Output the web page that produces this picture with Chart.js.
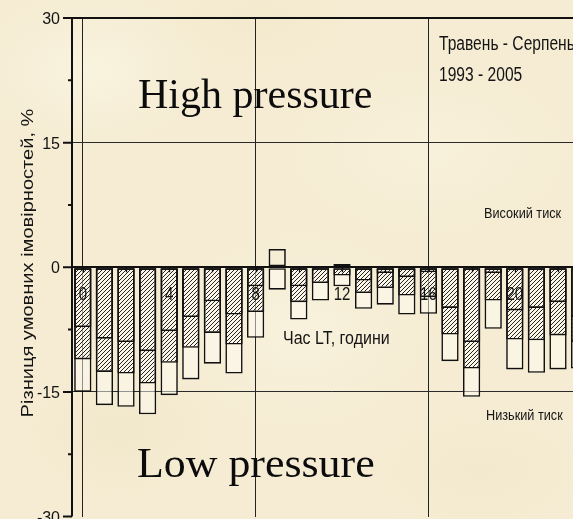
<!DOCTYPE html>
<html lang="uk">
<head>
<meta charset="utf-8">
<title>Різниця умовних імовірностей, %</title>
<script src="https://cdn.jsdelivr.net/npm/chart.js@4.4.1/dist/chart.umd.min.js"></script>
<style>
  html, body { margin: 0; padding: 0; overflow: hidden; }
  body {
    width: 573px; height: 519px;
    background-color: #f5ecd3;
    background-image:
      radial-gradient(ellipse 160px 110px at 90px 70px, rgba(252,247,230,0.6), rgba(252,247,230,0) 70%),
      radial-gradient(ellipse 200px 120px at 430px 150px, rgba(251,245,225,0.55), rgba(251,245,225,0) 70%),
      radial-gradient(ellipse 180px 140px at 300px 330px, rgba(251,246,228,0.55), rgba(251,246,228,0) 70%),
      radial-gradient(ellipse 150px 100px at 120px 430px, rgba(238,227,194,0.45), rgba(238,227,194,0) 70%),
      radial-gradient(ellipse 170px 90px at 480px 470px, rgba(240,229,198,0.4), rgba(240,229,198,0) 70%),
      radial-gradient(ellipse 140px 80px at 260px 20px, rgba(240,229,196,0.35), rgba(240,229,196,0) 70%);
  }
  #wrap { position: relative; width: 620px; height: 519px; }
</style>
</head>
<body>
<div id="wrap"><canvas id="c" width="620" height="519"></canvas></div>
<script>
// Hour of day (local time)
const hours = ['0','1','2','3','4','5','6','7','8','9','10','11',
               '12','13','14','15','16','17','18','19','20','21','22','23'];

// Three levels per hour, %: inner (outlined), middle (hatched), outer (open)
const levelInner  = [-7.2, -8.6, -9.0, -10.1, -7.7, -6.0, -4.1, -5.7, -2.3, 2.2, -2.3, -0.3,
                      0.4, -1.6, -0.7, -1.2, -0.6, -4.9, -9.0, -0.7, -5.2, -4.9, -4.2, -6.0];
const levelMiddle = [-11.1, -12.6, -12.8, -14.0, -11.5, -9.7, -7.9, -9.3, -5.4, null, -4.2, -1.9,
                      -1.0, -3.1, -2.5, -3.4, -3.6, -8.1, -12.2, -4.0, -8.7, -8.8, -8.2, -9.0];
const levelOuter  = [-15.0, -16.6, -16.8, -17.7, -15.4, -13.5, -11.6, -12.8, -8.5, -2.7, -6.3, -4.0,
                      -2.3, -5.0, -4.5, -5.7, -5.6, -11.3, -15.6, -7.4, -12.3, -12.7, -12.3, -12.2];

const yTickLabels = [30, 15, 0, -15, -30];
const xTickLabels = ['0', '4', '8', '12', '16', '20'];
const xGridHours  = ['0', '8', '16'];

const canvas = document.getElementById('c');
const ctx2d = canvas.getContext('2d');

// diagonal "///" hatch
function makeHatch(ctx) {
  const t = document.createElement('canvas');
  t.width = 4; t.height = 4;
  const g = t.getContext('2d');
  g.fillStyle = 'rgba(255,255,255,0.15)';
  g.fillRect(0, 0, 4, 4);
  g.strokeStyle = '#262626';
  g.lineWidth = 1;
  g.beginPath();
  g.moveTo(-1, 5); g.lineTo(5, -1);
  g.moveTo(-1, 1); g.lineTo(1, -1);
  g.moveTo(3, 5); g.lineTo(5, 3);
  g.stroke();
  return ctx.createPattern(t, 'repeat');
}
const hatch = makeHatch(ctx2d);

// text with independent horizontal / vertical scale
function putText(ctx, str, x, y, o) {
  ctx.save();
  ctx.translate(x, y);
  if (o.rotate) ctx.rotate(o.rotate);
  ctx.scale(o.sx || 1, o.sy || 1);
  ctx.font = o.font;
  ctx.fillStyle = o.color || '#141414';
  ctx.textAlign = o.align || 'left';
  ctx.textBaseline = o.baseline || 'alphabetic';
  ctx.fillText(str, 0, 0);
  ctx.restore();
}

const SANS = '"Liberation Sans", Arial, sans-serif';
const SERIF = '"Liberation Serif", "Times New Roman", serif';

const axesAndText = {
  id: 'axesAndText',
  afterDraw(chart) {
    const { ctx, chartArea: a, scales: { x, y } } = chart;
    const y0 = y.getPixelForValue(0);
    ctx.save();
    ctx.strokeStyle = '#111';
    ctx.lineCap = 'butt';

    // left axis with major / minor ticks
    ctx.lineWidth = 2;
    ctx.beginPath();
    ctx.moveTo(a.left, a.top - 1);
    ctx.lineTo(a.left, a.bottom);
    y.ticks.forEach(t => {
      const py = y.getPixelForValue(t.value);
      const len = yTickLabels.includes(t.value) ? 9 : 4;
      ctx.moveTo(a.left - len, py);
      ctx.lineTo(a.left, py);
    });
    ctx.stroke();

    // hour ticks on the zero line
    ctx.lineWidth = 1.3;
    ctx.beginPath();
    hours.forEach((h, i) => {
      if (i % 2 !== 0) return;
      const px = Math.round(x.getPixelForValue(i)) + 0.5;
      ctx.moveTo(px, y0);
      ctx.lineTo(px, y0 + 5);
    });
    ctx.stroke();
    ctx.restore();

    // y tick labels
    yTickLabels.forEach(v => {
      putText(ctx, String(v), a.left - 12, y.getPixelForValue(v) + 6,
        { font: '16px ' + SANS, align: 'right' });
    });

    // hour labels
    xTickLabels.forEach(lbl => {
      const i = hours.indexOf(lbl);
      putText(ctx, lbl, x.getPixelForValue(i), y0 + 33,
        { font: '15px ' + SANS, align: 'center', sy: 1.2 });
    });

    // axis titles
    putText(ctx, 'Різниця умовних імовірностей, %', 33, 263,
      { font: '17px ' + SANS, align: 'center', rotate: -Math.PI / 2, sx: 1.18 });
    putText(ctx, 'Час LT, години', 283, 344,
      { font: '16px ' + SANS, sy: 1.17 });

    // period
    putText(ctx, 'Травень - Серпень', 439, 50, { font: '15.6px ' + SANS, sy: 1.28 });
    putText(ctx, '1993 - 2005', 439, 81, { font: '15.6px ' + SANS, sy: 1.28 });

    // regime labels
    putText(ctx, 'Високий тиск', 484, 218, { font: '12.7px ' + SANS, sy: 1.12 });
    putText(ctx, 'Низький тиск', 486, 420, { font: '12.7px ' + SANS, sy: 1.12 });
    putText(ctx, 'High pressure', 138, 108, { font: '42px ' + SERIF, color: '#0c0c0c' });
    putText(ctx, 'Low pressure', 137, 477, { font: '42px ' + SERIF, color: '#0c0c0c', sx: 1.045 });
  }
};

const barCommon = {
  grouped: false,
  borderColor: '#111',
  borderWidth: 1.6,
  borderSkipped: false,
  barPercentage: 0.8,
  categoryPercentage: 1.0
};

new Chart(ctx2d, {
  type: 'bar',
  data: {
    labels: hours,
    datasets: [
      Object.assign({}, barCommon, { label: 'inner',  data: levelInner,  backgroundColor: 'rgba(0,0,0,0)', order: 0 }),
      Object.assign({}, barCommon, { label: 'middle', data: levelMiddle, backgroundColor: hatch, order: 1 }),
      Object.assign({}, barCommon, { label: 'outer',  data: levelOuter,  backgroundColor: 'rgba(255,252,243,0.5)', order: 2 })
    ]
  },
  options: {
    responsive: false,
    devicePixelRatio: 1,
    animation: false,
    events: [],
    layout: { padding: { left: 72, top: 18, right: 29.6, bottom: 2.5 } },
    plugins: { legend: { display: false }, tooltip: { enabled: false } },
    scales: {
      x: {
        type: 'category',
        offset: true,
        z: 1,
        grid: {
          offset: false,
          drawTicks: false,
          color: c => xGridHours.includes(hours[c.index]) ? '#222' : 'rgba(0,0,0,0)',
          lineWidth: 1
        },
        ticks: { display: false, autoSkip: false },
        border: { display: false },
        afterFit: s => { s.height = 0; }
      },
      y: {
        min: -30,
        max: 30,
        z: 1,
        ticks: { stepSize: 7.5, display: false },
        grid: {
          drawTicks: false,
          color: c => {
            const v = c.tick.value;
            if (v === 0 || v === 30) return '#111';
            if (v === 15 || v === -15) return '#2a2a2a';
            return 'rgba(0,0,0,0)';
          },
          lineWidth: c => (c.tick.value === 0 || c.tick.value === 30) ? 2 : 1
        },
        border: { display: false },
        afterFit: s => { s.width = 0; }
      }
    }
  },
  plugins: [axesAndText]
});
</script>
</body>
</html>
